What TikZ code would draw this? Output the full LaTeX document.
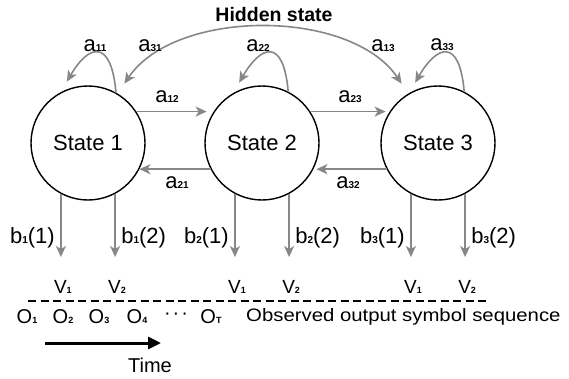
\documentclass[tikz,border=0pt]{standalone}
\usepackage{fontspec}
\setmainfont{Liberation Sans}
\usepackage{graphicx}
\usetikzlibrary{arrows.meta}
\definecolor{agray}{RGB}{135,135,135}
\newcommand{\asb}[1]{{\fontsize{10}{10}\selectfont\bfseries #1}}
\newcommand{\ssb}[1]{{\fontsize{9}{9}\selectfont\bfseries #1}}
\begin{document}
\begin{tikzpicture}[x=1pt,y=-1pt,
  state/.style={circle,draw,line width=1.4pt,minimum size=114pt,inner sep=0pt,font=\fontsize{22}{24}\selectfont},
  garrow/.style={draw=agray,line width=1.6pt,-{Stealth[length=11pt,width=10pt,inset=3pt]},color=agray},
  selfloop/.style={garrow,shorten >=12pt,out=95,in=60,distance=55pt},
  lab/.style={inner sep=1pt,font=\fontsize{22}{24}\selectfont},
  vlab/.style={inner sep=1pt,font=\fontsize{19}{20}\selectfont},
  olab/.style={inner sep=1pt,font=\fontsize{20}{21}\selectfont}]
\useasboundingbox (0,0) rectangle (569,378);
% states
\node[state] (s1) at (88,143) {State 1};
\node[state] (s2) at (262,143) {State 2};
\node[state] (s3) at (438,143) {State 3};
\node[font=\fontsize{19.5}{20}\selectfont\bfseries] (hs) at (274,15) {Hidden state};
% horizontal transitions
\draw[garrow,shorten >=7pt] (s1.33) -- (s2.147);
\draw[garrow] (s2.207) -- (s1.-27);
\draw[garrow,shorten >=4pt] (s2.33) -- (s3.147);
\draw[garrow,shorten >=3pt] (s3.207) -- (s2.-27);
\node[lab] (a12) at (167,97) {a\asb{12}};
\node[lab] (a21) at (177,183) {a\asb{21}};
\node[lab] (a23) at (350,97) {a\asb{23}};
\node[lab] (a32) at (348,183) {a\asb{32}};
% self loops
\draw[selfloop] (s1.61) to (s1.118);
\draw[selfloop] (s2.63) to (s2.120);
\draw[selfloop] (s3.63) to (s3.120);
\node[lab] (a11) at (95,46) {a\asb{11}};
\node[lab] (a22) at (258,46) {a\asb{22}};
\node[lab] (a33) at (442,45) {a\asb{33}};
% long arc 1 <-> 3
\draw[garrow,{Stealth[length=11pt,width=10pt,inset=3pt]}-{Stealth[length=11pt,width=10pt,inset=3pt]},shorten <=12pt,shorten >=12pt]
  (s1.59) to[out=56,in=124,distance=103pt] (s3.121);
\node[lab] (a31) at (150,46) {a\asb{31}};
\node[lab] (a13) at (383,46) {a\asb{13}};
% emissions
\coordinate (tip) at (0,257);
\coordinate (bl) at (0,238);
\coordinate (vl) at (0,287);
\foreach \s/\k in {s1/1,s2/2,s3/3}{
  \draw[garrow] (\s.-118) -- (\s.-118 |- tip);
  \draw[garrow] (\s.-62) -- (\s.-62 |- tip);
  \node[lab,anchor=east,xshift=-5pt] (b\k1) at (\s.-118 |- bl) {b\asb{\k}(1)};
  \node[lab,anchor=west,xshift=5pt] (b\k2) at (\s.-62 |- bl) {b\asb{\k}(2)};
  \node[vlab,xshift=2pt] (v\k1) at (\s.-118 |- vl) {V\ssb{1}};
  \node[vlab,xshift=2pt] (v\k2) at (\s.-62 |- vl) {V\ssb{2}};
}
% separator
\coordinate (dl) at (28,301);
\coordinate (dr) at (490,301);
\draw[line width=2.5pt,dash pattern=on 8pt off 4.5pt] (dl) -- (dr);
% observation sequence
\node[olab] (o1) at (27,317) {O\ssb{1}};
\node[olab] (o2) at (63,317) {O\ssb{2}};
\node[olab] (o3) at (99,317) {O\ssb{3}};
\node[olab] (o4) at (137,317) {O\ssb{4}};
\node[olab] (od) at (176,316) {·\hspace{2pt}·\hspace{2pt}·};
\node[olab] (oT) at (211,317) {O\ssb{T}};
\node[olab,anchor=west,font=\fontsize{18}{19}\selectfont] (obs) at (245,317) {\scalebox{1.13}[1]{Observed output symbol sequence}};
% time arrow
\coordinate (ts) at (45,343);
\coordinate (te) at (161,343);
\draw[line width=3pt,-{Triangle[length=13pt,width=12pt]}] (ts) -- (te);
\node[font=\fontsize{20}{22}\selectfont] (time) at (150,365) {Time};
\end{tikzpicture}
\end{document}
